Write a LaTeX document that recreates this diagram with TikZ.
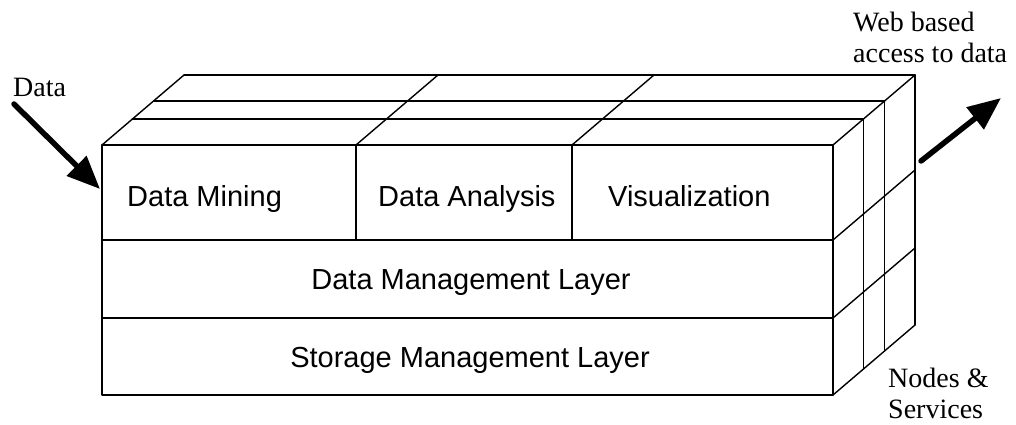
\documentclass[tikz,border=0pt]{standalone}
\usepackage{fontspec}
\setmainfont{Liberation Serif}
\setsansfont{Liberation Sans}
\usetikzlibrary{arrows.meta,calc}
\begin{document}
\begin{tikzpicture}[x=1pt,y=-1pt,
  edge/.style={line width=1.4pt, line join=round, line cap=round},
  lbl/.style={font=\sffamily\fontsize{29}{34}\selectfont, inner sep=0pt, anchor=base west},
  note/.style={font=\fontsize{28}{31}\selectfont, inner sep=0pt, anchor=base west},
  bigarrow/.style={line width=5.5pt, line cap=round, -{Triangle[length=33pt,width=27pt]}}]
\useasboundingbox (0,0) rectangle (1016,425);
% front face
\coordinate (FTL) at (102,145);
\coordinate (FBR) at (833,395);
\draw[edge] (FTL) rectangle (FBR);
\draw[edge] (102,240) -- (833,240);
\draw[edge] (102,318) -- (833,318);
\draw[edge] (356,145) -- (356,240);
\draw[edge] (572,145) -- (572,240);
% top face
\foreach \f in {0.37,0.63,1} {
  \draw[edge] ({102+\f*82},{145-\f*70}) -- ({833+\f*82},{145-\f*70});
}
\foreach \x in {102,356,572,833} {
  \draw[edge] (\x,145) -- ++(82,-70);
}
% right face
\foreach \f in {0.37,0.63,1} {
  \draw[edge] ({833+\f*82},{145-\f*70}) -- ({833+\f*82},{395-\f*70});
}
\foreach \y in {240,318,395} {
  \draw[edge] (833,\y) -- ++(82,-70);
}
% arrows
\coordinate (dataS) at (14,104);
\coordinate (dataE) at (100,189);
\draw[bigarrow] (dataS) -- (dataE);
\coordinate (webS) at (921,161);
\coordinate (webE) at (1001,98);
\draw[bigarrow] (webS) -- (webE);
% labels
\node[note] (data) at (13,96) {Data};
\node[note] (web1) at (853,32) {Web based};
\node[note] (web2) at (853,63) {access to data};
\node[note] (nodes1) at (888,387) {Nodes \&};
\node[note] (nodes2) at (888,418) {Services};
\node[lbl] (mining) at (127,206) {Data Mining};
\node[lbl] (analysis) at (378,206) {Data Analysis};
\node[lbl] (vis) at (608,206) {Visualization};
\node[lbl, anchor=base] (dml) at (471,289) {Data Management Layer};
\node[lbl, anchor=base] (sml) at (470,367) {Storage Management Layer};
\end{tikzpicture}
\end{document}
